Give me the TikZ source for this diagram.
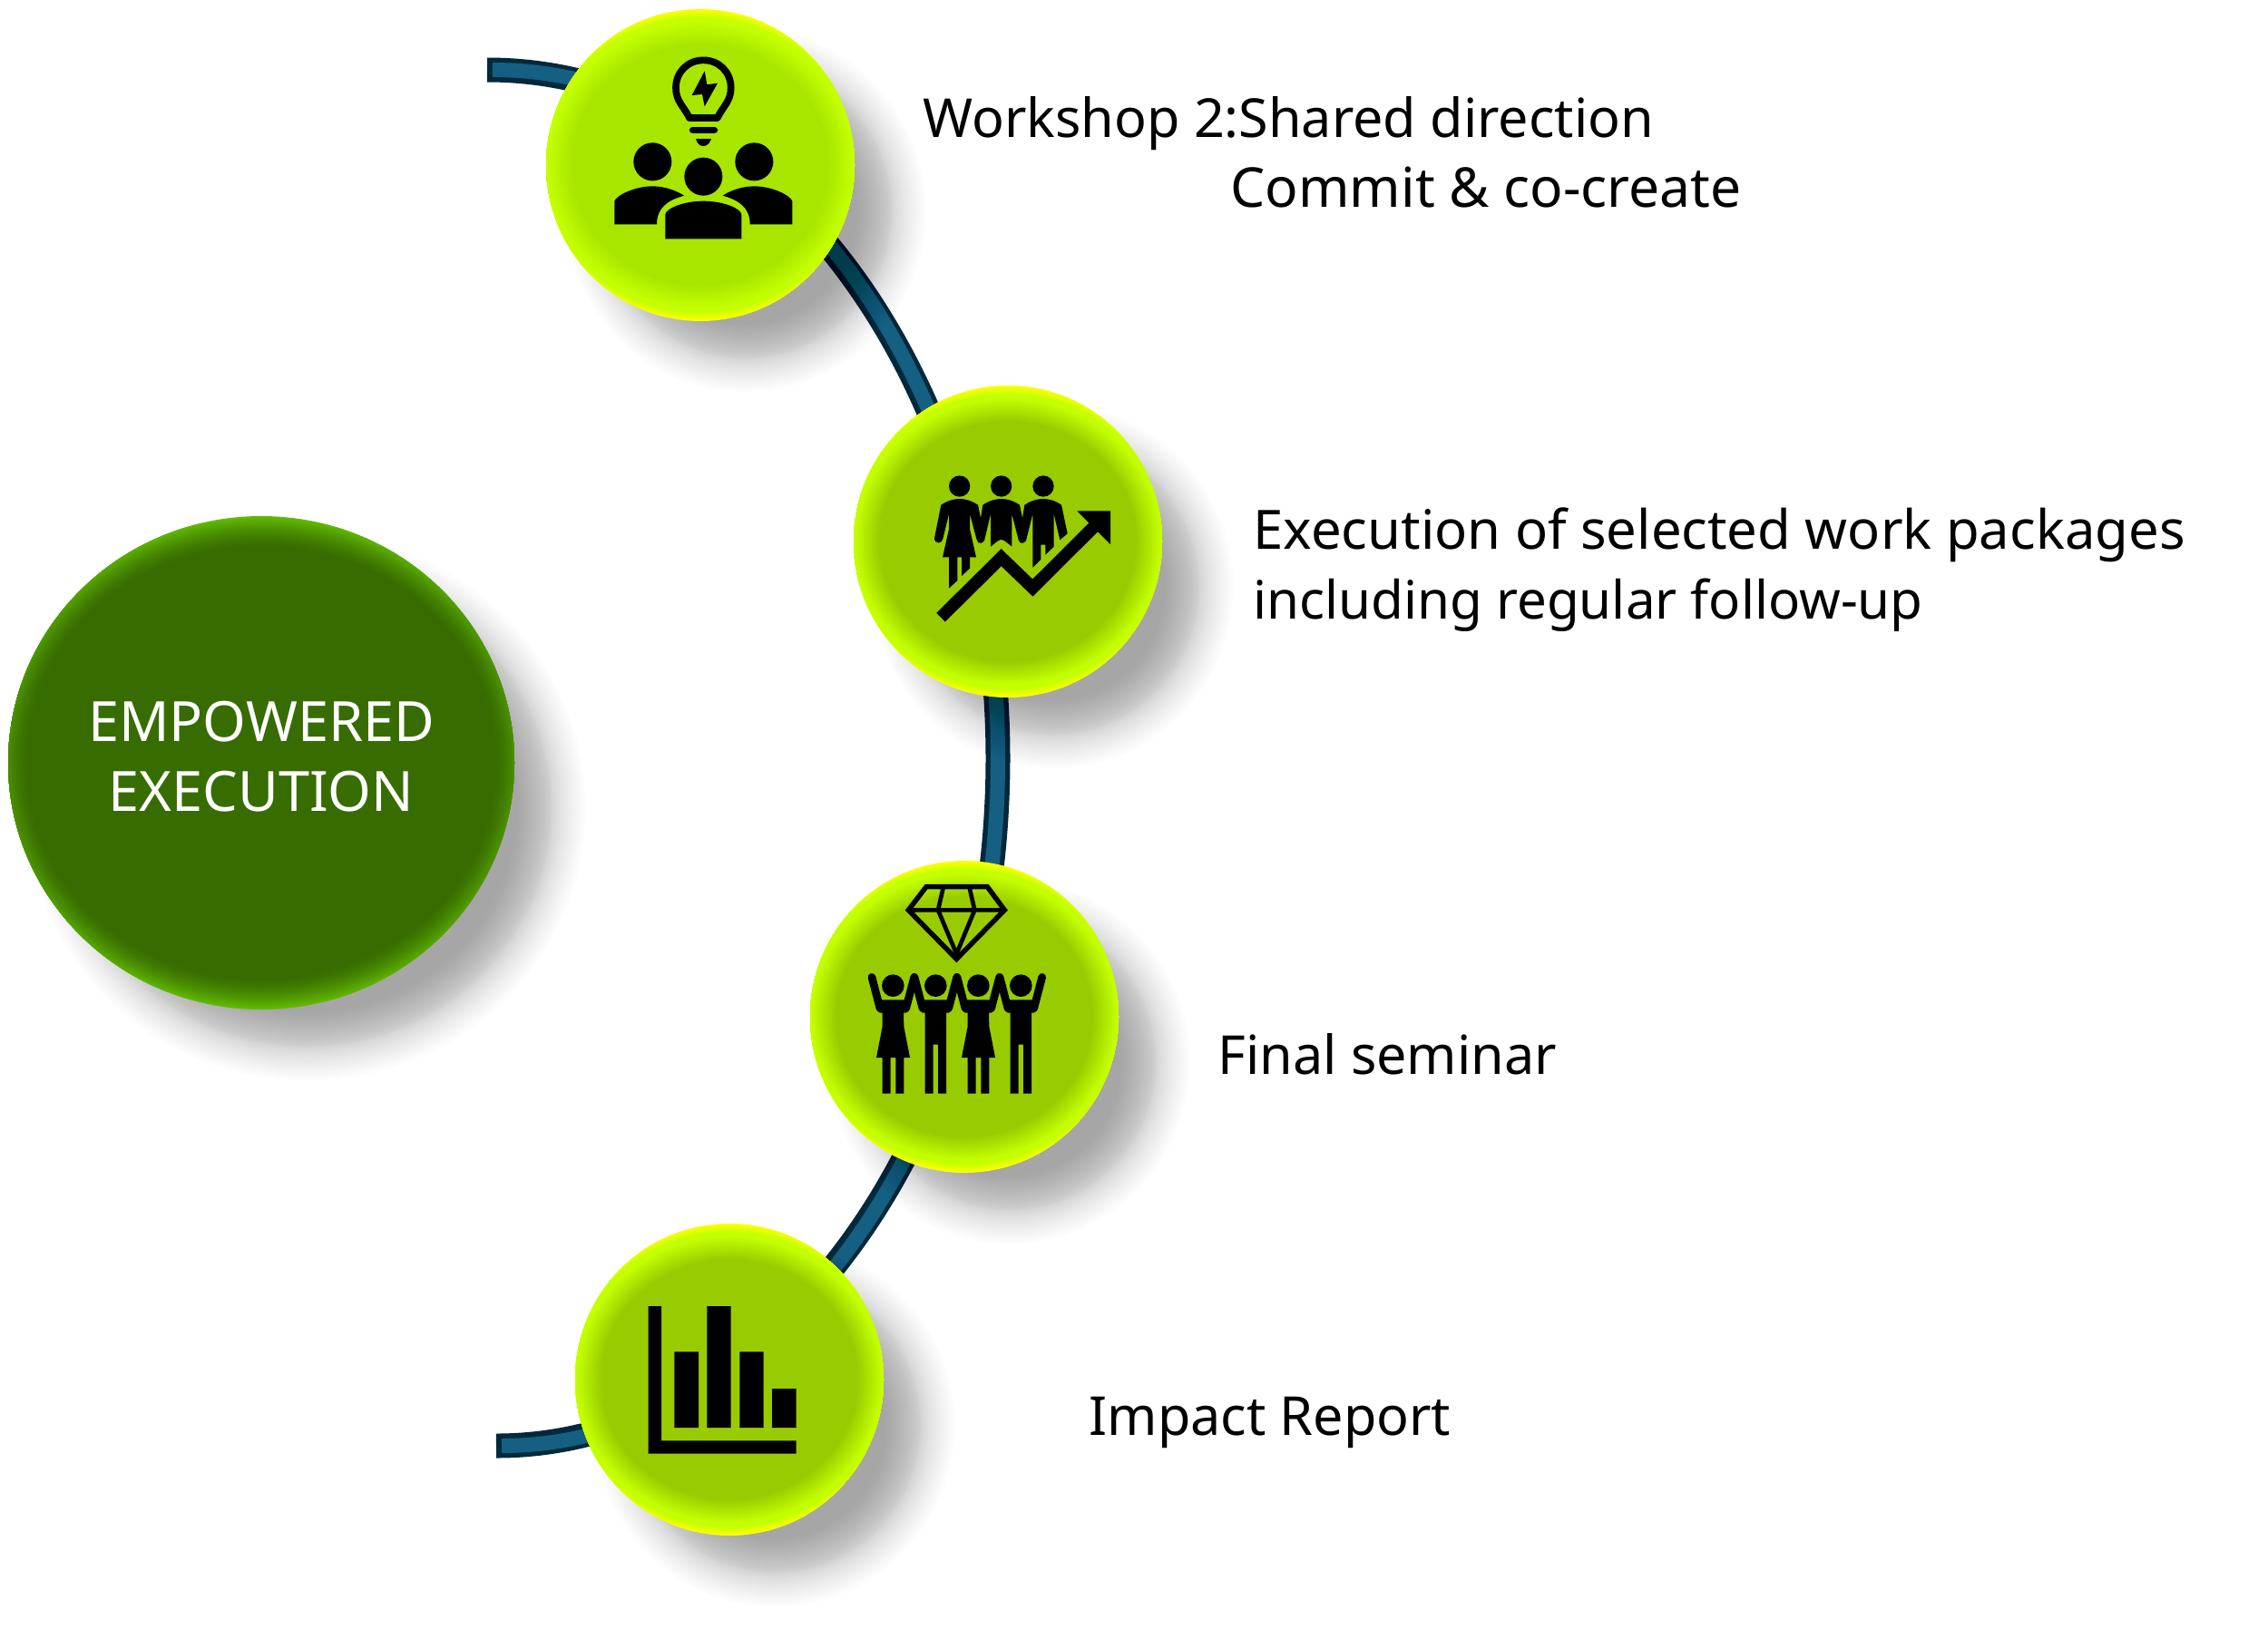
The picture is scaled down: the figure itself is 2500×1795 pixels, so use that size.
\documentclass[tikz,border=0pt]{standalone}
\usepackage{fontspec}
\setmainfont{Noto Sans}
\definecolor{limeA}{HTML}{A8E600}
\definecolor{limeB}{HTML}{99CC00}
\definecolor{rimL}{HTML}{C4FF00}
\definecolor{rimY}{HTML}{FFFF00}
\definecolor{darkG}{HTML}{376B00}
\definecolor{rimG}{HTML}{62BB00}
\definecolor{arcIn}{HTML}{156082}
\definecolor{arcOut}{HTML}{02283C}
\tikzset{
  pxgrid/.style={x=0.4pt,y=-0.4pt},
  zoomscope/.style={shift={#1},x=0.13333pt,y=-0.13333pt},
  icon/.style={fill=black,draw=none},
  labeltext/.style={font=\fontsize{23.7pt}{30.8pt}\selectfont,text=black,inner sep=0pt,align=left},
  shadowlayer/.style={fill=black,fill opacity=0.0114,draw=none},
}
% \orbshadow{x}{y}{rx}{ry}: stack of faint discs, denser near the middle of the blur
\newcommand{\orbshadow}[4]{%
  \foreach \u in {-29,-27,...,29}{%
    \pgfmathsetmacro{\uu}{\u/30}%
    \pgfmathsetmacro{\ss}{0.5+0.5*sign(\uu)*abs(\uu)^1.3}%
    \pgfmathsetmacro{\dr}{-48+\ss*78}%
    \fill[shadowlayer] (#1+50,#2+50) circle[x radius=#3+\dr,y radius=#4+\dr];
  }}
% \orbbright{name}{x}{y}{centre colour}{rx}{ry}
\newcommand{\orbbright}[6]{%
  \begin{scope}
    \clip (#2,#3) circle[x radius=#5,y radius=#6];
    \fill[rimY] (#2,#3) circle[x radius=#5*1.08,y radius=#6];
    \foreach \t in {99.5,99,...,76.5}{%
      \pgfmathsetmacro{\pa}{min(100,max(0,(\t-94.5)/5.5*100))}%
      \pgfmathsetmacro{\pb}{min(100,max(0,(\t-77)/15*100))}%
      \pgfmathparse{\t>=92?1:0}%
      \ifnum\pgfmathresult=1
        \colorlet{stepcol}{rimY!\pa!rimL}%
      \else
        \colorlet{stepcol}{rimL!\pb!#4}%
      \fi
      \fill[stepcol] (#2,#3) circle[x radius=#5*1.08*(\t/100),y radius=#6*(\t/100)];
    }
  \end{scope}
  \coordinate (#1) at (#2,#3);}
% \orbdark{name}{x}{y}{rx}{ry}
\newcommand{\orbdark}[5]{%
  \begin{scope}
    \clip (#2,#3) circle[x radius=#4,y radius=#5];
    \fill[rimG] (#2,#3) circle[x radius=#4*1.06,y radius=#5];
    \foreach \t in {99.5,99,...,87.5}{%
      \pgfmathsetmacro{\pa}{((\t-87)/13)^1.5*100}%
      \colorlet{stepcol}{rimG!\pa!darkG}%
      \fill[stepcol] (#2,#3) circle[x radius=#4*1.06*(\t/100),y radius=#5*(\t/100)];
    }
  \end{scope}
  \coordinate (#1) at (#2,#3);}
\begin{document}
\begin{tikzpicture}[pxgrid]
\fill[white] (0,0) rectangle (2500,1795);
% connector curve
\coordinate (capTop) at (537,77);
\coordinate (capBot) at (547,1594);
\coordinate (arcMid) at (1100,836);
\draw[arcOut,line width=10.8pt] (capTop) .. controls (849,77) and (1100,417) .. (arcMid)
   .. controls (1100,1255) and (851,1594) .. (capBot);
\draw[arcIn,line width=6.4pt] (543,77) .. controls (851,77) and (1100,417) .. (arcMid)
   .. controls (1100,1255) and (853,1594) .. (553,1594);
% shadows
\orbshadow{772}{182}{170}{172}
\orbshadow{1111}{597}{170}{172}
\orbshadow{1063}{1121}{170}{172}
\orbshadow{804}{1521}{170}{172}
\orbshadow{288}{841}{279}{272}
% discs
\orbbright{w2}{772}{182}{limeA}{170}{172}
\orbbright{ex}{1111}{597}{limeB}{170}{172}
\orbbright{fs}{1063}{1121}{limeB}{170}{172}
\orbbright{ir}{804}{1521}{limeB}{170}{172}
\orbdark{main}{288}{841}{279}{272}
\node[font=\fontsize{24.5pt}{30.8pt}\selectfont,text=white,align=center,inner sep=0pt] (mainlabel) at (288,834) {EMPOWERED\\EXECUTION};
% icon 1
\begin{scope}[zoomscope={(520,0)}]
 \draw[line width=3.07pt,line join=round] (720,390) .. controls (700,350) and (675,335) .. (675,290)
   .. controls (675,238) and (715,199) .. (766,199) .. controls (817,199) and (857,238) .. (857,290)
   .. controls (857,335) and (832,350) .. (812,390) -- cycle;
 \fill[icon] (770,235) -- (728,315) -- (762,312) -- (770,352) -- (813,275) -- (778,280) -- cycle;
 \draw[line width=3.07pt,line cap=round] (731,430) -- (802,430);
 \fill[icon] (741,459) .. controls (745,475) and (755,483) .. (766,483) .. controls (777,483) and (787,475) .. (792,459) -- cycle;
 \fill[icon] (598,535) circle[radius=63] (934,535) circle[radius=63] (766,584) circle[radius=63];
 \fill[icon] (640,790) -- (640,710) .. controls (640,690) and (700,665) .. (766,665) .. controls (832,665) and (892,690) .. (892,710) -- (892,790) -- cycle;
 \fill[icon] (472,742) -- (472,665) .. controls (480,645) and (540,616) .. (598,616) .. controls (640,616) and (680,632) .. (702,647) .. controls (650,662) and (612,685) .. (612,742) -- cycle;
 \fill[icon] (1060,742) -- (1060,665) .. controls (1052,645) and (992,616) .. (934,616) .. controls (892,616) and (852,632) .. (830,647) .. controls (882,662) and (920,685) .. (920,742) -- cycle;
\end{scope}
% icon 2
\begin{scope}[zoomscope={(920,410)}]
 \draw[line width=5.47pt,miter limit=10] (351,812) -- (551,614) -- (655,714) -- (870,500);
 \fill[icon] (802,460) -- (912,460) -- (912,570) -- cycle;
 \fill[icon] (413,378) circle[radius=35] (551,378) circle[radius=35] (690,378) circle[radius=35];
 \fill[icon] (352,440) .. controls (375,425) and (395,420) .. (413,420) .. controls (431,420) and (451,425) .. (474,440)
   -- (497,550) .. controls (495,570) and (472,572) .. (470,555) -- (447,470) -- (447,520) -- (468,613) -- (447,613) -- (447,650) -- (420,675) -- (420,613) -- (406,613) -- (406,690) -- (378,716) -- (378,613) -- (357,613) -- (378,520) -- (378,470) -- (358,552) .. controls (355,570) and (330,570) .. (330,550) -- cycle;
 \fill[icon] (490,440) .. controls (513,425) and (533,420) .. (551,420) .. controls (569,420) and (589,425) .. (612,440)
   -- (635,550) .. controls (633,570) and (610,572) .. (608,555) -- (586,470) -- (586,578) .. controls (570,565) and (560,555) .. (551,555) .. controls (542,555) and (532,565) .. (516,578) -- (516,470) -- (497,550) -- (482,490) -- cycle;
 \fill[icon] (628,440) .. controls (651,425) and (671,420) .. (690,420) .. controls (708,420) and (728,425) .. (750,440)
   -- (770,535) -- (745,556) -- (725,470) -- (725,578) -- (697,605) -- (697,572) -- (682,572) -- (682,620) -- (655,647) -- (655,470) -- (635,550) -- (620,490) -- cycle;
\end{scope}
% icon 3
\begin{scope}[zoomscope={(880,940)}]
 \draw[line width=2.2pt,miter limit=10] (423,113) -- (625,113) -- (682,190) -- (523,352) -- (364,190) -- cycle;
 \draw[line width=1.87pt] (366,190) -- (680,190) (480,112) -- (462,190) -- (523,335) -- (583,190) -- (565,112);
 \foreach \cx/\w in {313/1,454/0,595/1,736/0}{
  \fill[icon] (\cx,440) circle[radius=37];
  \draw[line width=3.47pt,line cap=round] (\cx-70,412) -- (\cx-43,515);
  \draw[line width=3.47pt,line cap=round] (\cx+70,412) -- (\cx+43,515);
  \fill[icon] (\cx-45,487) -- (\cx+45,487) -- (\cx+45,530) -- (\cx+35,530) -- (\cx-35,530) -- (\cx-45,530) -- cycle;
  \ifnum\w=1
   \fill[icon] (\cx-35,525) -- (\cx+35,525) -- (\cx+36,575) -- (\cx+56,678) -- (\cx+36,678) -- (\cx+36,797) -- (\cx+9,797) -- (\cx+9,678) -- (\cx-8,678) -- (\cx-8,797) -- (\cx-35,797) -- (\cx-35,678) -- (\cx-55,678) -- (\cx-35,575) -- cycle;
  \else
   \fill[icon] (\cx-35,525) -- (\cx+35,525) -- (\cx+35,797) -- (\cx+8,797) -- (\cx+8,635) -- (\cx-8,635) -- (\cx-8,797) -- (\cx-35,797) -- cycle;
  \fi
 }
\end{scope}
% icon 4
\begin{scope}[zoomscope={(530,1340)}]
 \fill[icon] (554,300) -- (597,300) -- (597,745) -- (1043,745) -- (1043,788) -- (554,788) -- cycle;
 \fill[icon] (640,451) rectangle (720,702) (748,300) rectangle (827,702) (856,451) rectangle (935,702) (963,573) rectangle (1043,702);
\end{scope}
% labels
\node[labeltext,anchor=base west] (t1a) at (1017,151) {Workshop 2:Shared direction};
\node[labeltext,anchor=base west,font=\fontsize{24.2pt}{30.8pt}\selectfont] (t1b) at (1356,228) {Commit \& co-create};
\node[labeltext,anchor=base west,font=\fontsize{23.9pt}{30.8pt}\selectfont] (t2a) at (1381,605) {Execution of selected work packages};
\node[labeltext,anchor=base west,font=\fontsize{23.3pt}{30.8pt}\selectfont] (t2b) at (1381,682) {including regular follow-up};
\node[labeltext,anchor=base west] (t3) at (1342,1184) {Final seminar};
\node[labeltext,anchor=base west] (t4) at (1200,1582) {Impact Report};
\end{tikzpicture}
\end{document}
